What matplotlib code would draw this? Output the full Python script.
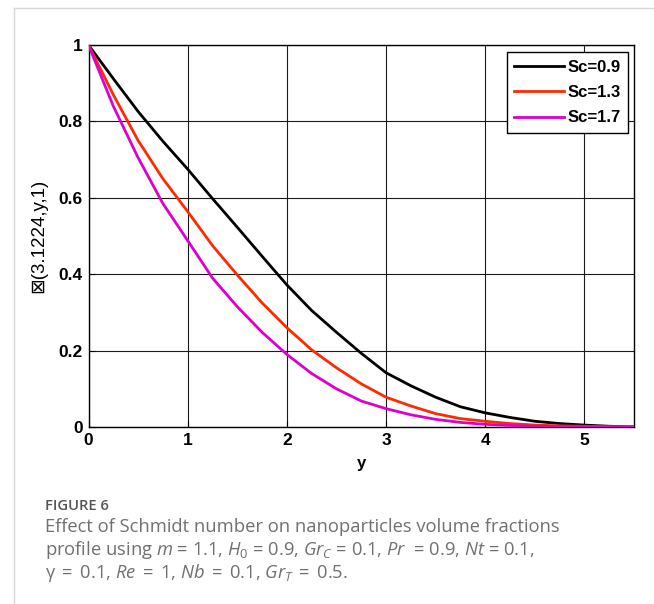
import numpy as np
import matplotlib
matplotlib.use("Agg")
import matplotlib.pyplot as plt
from matplotlib.lines import Line2D

# ---- data ----
y_vals = [0, 0.25, 0.5, 0.75, 1.0, 1.25, 1.5, 1.75, 2.0, 2.25, 2.5, 2.75, 3.0,
          3.25, 3.5, 3.75, 4.0, 4.25, 4.5, 4.75, 5.0, 5.25, 5.5]
sc_09 = [1.0, 0.912, 0.826, 0.748, 0.675, 0.598, 0.523, 0.447, 0.372, 0.305, 0.248,
         0.193, 0.142, 0.108, 0.078, 0.053, 0.037, 0.025, 0.015, 0.009, 0.005, 0.002, 0.0]
sc_13 = [1.0, 0.87, 0.75, 0.65, 0.564, 0.475, 0.398, 0.325, 0.26, 0.202, 0.155,
         0.113, 0.078, 0.055, 0.035, 0.022, 0.015, 0.009, 0.005, 0.003, 0.002, 0.001, 0.0]
sc_17 = [1.0, 0.84, 0.705, 0.585, 0.488, 0.39, 0.315, 0.248, 0.19, 0.14, 0.1,
         0.068, 0.048, 0.032, 0.02, 0.012, 0.007, 0.004, 0.002, 0.001, 0.0005, 0.0002, 0.0]
labels = ["Sc=0.9", "Sc=1.3", "Sc=1.7"]
colors = ["#000000", "#ff2a00", "#dd00cc"]
xticks = [0, 1, 2, 3, 4, 5]
yticks = [0, 0.2, 0.4, 0.6, 0.8, 1]
ytick_labels = ["0", "0.2", "0.4", "0.6", "0.8", "1"]

plt.rcParams['mathtext.fontset'] = 'custom'
plt.rcParams['mathtext.rm'] = 'Open Sans'
plt.rcParams['mathtext.it'] = 'Open Sans:italic'

W, H = 654, 604
fig = plt.figure(figsize=(W / 100, H / 100), dpi=100)

# outer frame lines
fig.add_artist(Line2D([13.5 / W, 13.5 / W], [0, 1 - 7.5 / H], transform=fig.transFigure,
                      color="#d8d8d8", lw=1))
fig.add_artist(Line2D([13.5 / W, 1], [1 - 7.5 / H, 1 - 7.5 / H], transform=fig.transFigure,
                      color="#d8d8d8", lw=1))

ax = fig.add_axes([88.5 / W, 1 - 427 / H, (634 - 88.5) / W, (427 - 45) / H])
for ys, lab, c in zip([sc_09, sc_13, sc_17], labels, colors):
    ax.plot(y_vals, ys, color=c, lw=2.0, label=lab, zorder=3)

ax.set_xlim(0, 5.5)
ax.set_ylim(0, 1)
ax.set_xticks(xticks)
ax.set_yticks(yticks)
ax.set_yticklabels(ytick_labels)
ax.grid(True, color="#1a1a1a", lw=0.8)
ax.tick_params(direction="in", length=4, width=0.8, labelsize=12.5, pad=4)
for t in ax.get_xticklabels() + ax.get_yticklabels():
    t.set_fontweight("bold")
    t.set_family("Liberation Sans")
for s in ax.spines.values():
    s.set_linewidth(1.0)
    s.set_color("black")

ax.set_xlabel("y", fontsize=12, fontweight="bold", family="Liberation Sans", labelpad=6)
ax.set_ylabel("\u22a0(3.1224,y,1)", fontsize=13.5, family=["Liberation Sans", "DejaVu Sans"],
              labelpad=8)

leg = ax.legend(loc="upper right", fancybox=False, framealpha=1, edgecolor="black",
                prop={"family": "Liberation Sans", "weight": "bold", "size": 12},
                handlelength=3.0, borderpad=0.45, labelspacing=0.62, handletextpad=0.2,
                borderaxespad=0, bbox_to_anchor=(0.9895, 0.981))
leg.get_frame().set_linewidth(1.0)

# caption
fig.text(45 / W, 1 - 510 / H, "FIGURE 6", family="Open Sans", fontweight="semibold",
         fontsize=10.6, color="#555555", va="baseline")
eq = " $\\,$=$\\,$ "
cap_lines = [
    "Effect of Schmidt number on nanoparticles volume fractions",
    "profile using $m$ = 1.1, $H_0$ = 0.9, $Gr_C$ = 0.1, $Pr$  = 0.9, $Nt$ = 0.1,",
    "\u03b3" + eq + "0.1, $Re$" + eq + "1, $Nb$" + eq + "0.1, $Gr_T$" + eq + "0.5.",
]
for i, line in enumerate(cap_lines):
    fig.text(45 / W, 1 - (532.5 + 22.5 * i) / H, line, family="Open Sans",
             fontsize=13.2, color="#707070", va="baseline")

fig.savefig("out.png", dpi=100)
